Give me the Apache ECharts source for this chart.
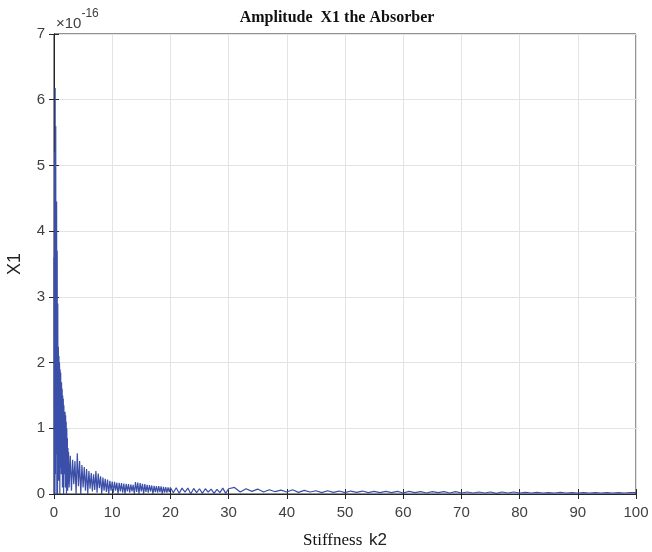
<!DOCTYPE html>
<html>
<head>
<meta charset="utf-8">
<script src="https://cdn.jsdelivr.net/npm/echarts@6/dist/echarts.min.js"></script>
<style>html,body{margin:0;padding:0;background:#fff}#c{width:652px;height:552px}</style>
</head>
<body>
<div id="c"></div>
<script>
// Stiffness k2 (x) and amplitude X1 in units of 1e-16 (y)
var k2Values = [
  0.00,0.05,0.10,0.15,0.20,0.25,0.30,0.35,0.40,0.45,0.50,0.55,0.60,0.65,0.70,0.75,0.80,0.85,0.90,0.95,
  1.00,1.05,1.10,1.15,1.20,1.25,1.30,1.35,1.40,1.45,1.50,1.55,1.60,1.65,1.70,1.75,1.80,1.85,1.90,1.95,
  2.00,2.05,2.10,2.15,2.20,2.25,2.30,2.35,2.40,2.45,2.50,
  2.6,2.8,3.0,3.2,3.4,3.6,3.8,4.0,4.2,4.4,4.6,4.8,5.0,5.2,5.4,5.6,5.8,6.0,6.2,6.4,6.6,6.8,7.0,7.2,7.4,7.6,7.8,
  8.0,8.2,8.4,8.6,8.8,9.0,9.2,9.4,9.6,9.8,10.0,10.2,10.4,10.6,10.8,11.0,11.2,11.4,11.6,11.8,12.0,12.2,12.4,12.6,12.8,
  13.0,13.2,13.4,13.6,13.8,14.0,14.2,14.4,14.6,14.8,15.0,15.2,15.4,15.6,15.8,16.0,16.2,16.4,16.6,16.8,17.0,17.2,17.4,17.6,17.8,
  18.0,18.2,18.4,18.6,18.8,19.0,19.2,19.4,19.6,19.8,20.0,
  20.5,21,21.5,22,22.5,23,23.5,24,24.5,25,25.5,26,26.5,27,27.5,28,28.5,29,29.5,30,
  31,32,33,34,35,36,37,38,39,40,
  41,42,43,44,45,46,47,48,49,50,51,52,53,54,55,56,57,58,59,60,
  61,62,63,64,65,66,67,68,69,70,71,72,73,74,75,76,77,78,79,80,
  81,82,83,84,85,86,87,88,89,90,91,92,93,94,95,96,97,98,99,100
];
var x1Values = [
  3.6,0.0,5.2,0.3,6.18,0.8,5.6,0.0,3.0,4.45,0.6,3.7,0.0,2.9,0.4,2.24,0.2,2.1,0.6,2.0,
  0.0,1.9,0.4,1.85,1.84,0.3,1.7,0.5,1.6,0.1,1.5,0.4,1.45,0.0,1.35,0.3,1.25,0.4,1.25,0.1,
  1.2,0.2,1.1,0.0,1.0,0.2,0.85,0.05,0.7,0.15,0.64,
  0.10,0.58,0.05,0.52,0.15,0.50,0.0,0.62,0.12,0.50,0.0,0.44,0.10,0.41,0.05,0.38,0.0,0.35,0.08,0.32,0.04,0.30,0.06,0.35,0.02,0.31,0.09,
  0.27,0.0,0.25,0.05,0.23,0.03,0.22,0.0,0.20,0.05,0.19,0.02,0.185,0.05,0.175,0.0,0.17,0.04,0.165,0.02,0.16,0.0,0.155,0.04,0.15,
  0.02,0.145,0.04,0.14,0.0,0.18,0.03,0.175,0.0,0.165,0.04,0.155,0.0,0.15,0.03,0.14,0.02,0.135,0.04,0.13,0.0,0.125,0.03,0.12,0.02,
  0.12,0.03,0.115,0.0,0.11,0.02,0.105,0.02,0.10,0.03,0.10,
  0.02,0.095,0.01,0.09,0.03,0.09,0.0,0.085,0.02,0.08,0.01,0.08,0.03,0.075,0.01,0.07,0.02,0.09,0.01,0.08,
  0.10,0.03,0.08,0.04,0.075,0.03,0.065,0.035,0.06,0.03,
  0.065,0.025,0.055,0.03,0.05,0.02,0.05,0.025,0.045,0.02,0.045,0.025,0.045,0.02,0.04,0.02,0.04,0.02,0.04,0.015,
  0.04,0.02,0.035,0.015,0.035,0.02,0.035,0.015,0.035,0.015,0.03,0.015,0.03,0.015,0.03,0.01,0.03,0.015,0.03,0.015,
  0.025,0.015,0.025,0.015,0.02,0.015,0.025,0.015,0.02,0.015,0.02,0.015,0.02,0.015,0.02,0.015,0.02,0.015,0.02,0.02
];
var xTicks = [0,10,20,30,40,50,60,70,80,90,100];
var yTicks = [0,1,2,3,4,5,6,7];

var data = k2Values.map(function(k,i){return [k, x1Values[i]];});
var chart = echarts.init(document.getElementById('c'), null, {renderer:'canvas'});
var axisFont = {color:'#404040', fontSize:15, fontFamily:'Liberation Sans, Arial, sans-serif'};
chart.setOption({
  animation:false,
  backgroundColor:'#fff',
  title:{
    text:'Amplitude  X1 the Absorber', left:332, top:5, textAlign:'center',
    textStyle:{fontFamily:'Liberation Serif, Times New Roman, serif', fontWeight:'bold', fontSize:16, color:'#111'}
  },
  grid:{left:54, right:16, top:34, bottom:58, show:true, borderColor:'#262626', borderWidth:1, backgroundColor:'#fff', containLabel:false, outerBoundsMode:'none'},
  xAxis:[{
    type:'value', min:xTicks[0], max:xTicks[xTicks.length-1], interval:10,
    axisLine:{show:true, lineStyle:{color:'#262626'}},
    axisTick:{show:true, inside:true, length:5, lineStyle:{color:'#262626'}},
    axisLabel:Object.assign({margin:11}, axisFont),
    splitLine:{show:true, lineStyle:{color:'#e3e3e3', width:1}},
    name:'{a|Stiffness}  {b|k2}', nameLocation:'middle', nameGap:38,
    nameTextStyle:{rich:{
      a:{fontFamily:'Liberation Serif, Times New Roman, serif', fontSize:17, color:'#111'},
      b:{fontFamily:'Liberation Sans, Arial, sans-serif', fontSize:17, color:'#222'}
    }}
  },{
    type:'value', position:'top', min:0, max:100, interval:10,
    axisLine:{show:true, lineStyle:{color:'#262626'}},
    axisTick:{show:true, inside:true, length:5, lineStyle:{color:'#262626'}},
    axisLabel:{show:false}, splitLine:{show:false}
  }],
  yAxis:[{
    type:'value', min:yTicks[0], max:yTicks[yTicks.length-1], interval:1,
    axisLine:{show:true, lineStyle:{color:'#262626'}},
    axisTick:{show:true, inside:true, length:5, lineStyle:{color:'#262626'}},
    axisLabel:Object.assign({margin:9}, axisFont),
    splitLine:{show:true, lineStyle:{color:'#e3e3e3', width:1}},
    name:'X1', nameLocation:'middle', nameGap:30, nameRotate:90,
    nameTextStyle:{fontFamily:'Liberation Sans, Arial, sans-serif', fontSize:18, color:'#222'}
  },{
    type:'value', position:'right', min:0, max:7, interval:1,
    axisLine:{show:true, lineStyle:{color:'#262626'}},
    axisTick:{show:true, inside:true, length:5, lineStyle:{color:'#262626'}},
    axisLabel:{show:false}, splitLine:{show:false}
  }],
  graphic:[{
    type:'text', left:56, top:8,
    style:{
      text:'{m|×10}{s|-16}',
      rich:{
        m:{fontFamily:'Liberation Sans, Arial, sans-serif', fontSize:15, fill:'#404040', verticalAlign:'bottom', padding:[8,0,0,0]},
        s:{fontFamily:'Liberation Sans, Arial, sans-serif', fontSize:12, fill:'#404040', verticalAlign:'top', padding:[0,0,8,0]}
      }
    }
  }],
  series:[{
    type:'line', data:data, showSymbol:false, symbol:'none',
    lineStyle:{color:'#3b4fa8', width:1.2},
    xAxisIndex:0, yAxisIndex:0
  }]
});
</script>
</body>
</html>
